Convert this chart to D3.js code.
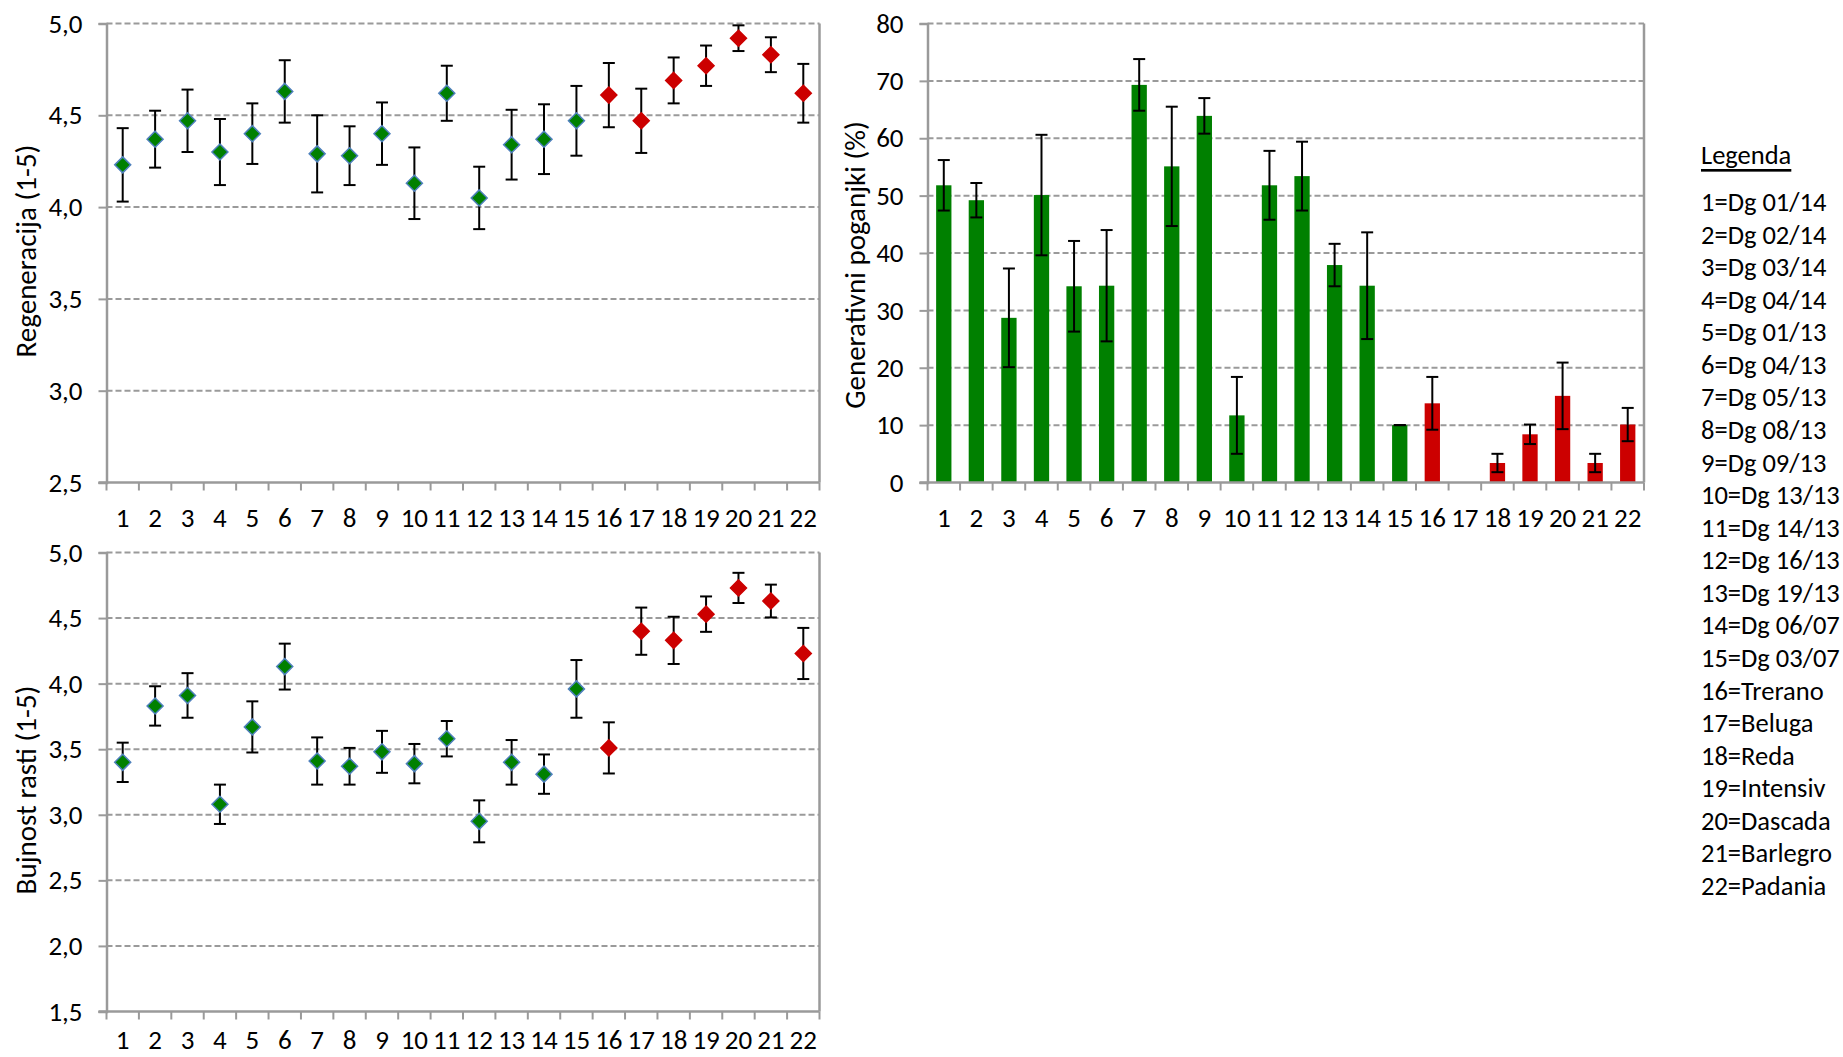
<!DOCTYPE html>
<html>
<head>
<meta charset="utf-8">
<script src="https://cdn.jsdelivr.net/npm/d3@7"></script>
<style>
  html, body { margin: 0; padding: 0; background: #fff; }
  svg { display: block; }
  text { font-family: Carlito, Calibri, Lato, sans-serif; fill: #000; }
</style>
</head>
<body>
<svg id="chart" width="1843" height="1057"></svg>
<script>
// Accessions 1-22: 1-15 are breeding lines, 16-22 are reference cultivars
const categories = d3.range(1, 23).map(String);
const groups = categories.map((c, i) => i < 15 ? "line" : "cultivar");

// Regeneration score (1-5), mean and error
const regen    = [4.23, 4.37, 4.47, 4.30, 4.40, 4.63, 4.29, 4.28, 4.40, 4.13, 4.62,
                  4.05, 4.34, 4.37, 4.47, 4.61, 4.47, 4.69, 4.77, 4.92, 4.83, 4.62];
const regenErr = [0.20, 0.155, 0.17, 0.18, 0.165, 0.17, 0.21, 0.16, 0.17, 0.195, 0.15,
                  0.17, 0.19, 0.19, 0.19, 0.175, 0.175, 0.125, 0.11, 0.07, 0.095, 0.16];

// Generative shoots (%), mean and error
const gen    = [51.8, 49.2, 28.7, 50.1, 34.2, 34.3, 69.3, 55.1, 63.9, 11.7, 51.8,
                53.4, 37.9, 34.3, 10.0, 13.8, 0, 3.4, 8.4, 15.1, 3.4, 10.1];
const genErr = [4.4, 3.0, 8.6, 10.5, 7.9, 9.7, 4.5, 10.4, 3.1, 6.7, 6.0,
                6.0, 3.7, 9.3, 0, 4.6, null, 1.6, 1.7, 5.8, 1.6, 2.9];

// Growth vigour score (1-5), mean and error
const vigor    = [3.40, 3.83, 3.91, 3.08, 3.67, 4.13, 3.41, 3.37, 3.48, 3.39, 3.58,
                  2.95, 3.40, 3.31, 3.96, 3.51, 4.40, 4.33, 4.53, 4.73, 4.63, 4.23];
const vigorErr = [0.15, 0.15, 0.17, 0.15, 0.195, 0.175, 0.18, 0.14, 0.16, 0.15, 0.135,
                  0.16, 0.17, 0.15, 0.22, 0.195, 0.18, 0.18, 0.135, 0.115, 0.125, 0.195];

const regenTicks = [2.5, 3.0, 3.5, 4.0, 4.5, 5.0];
const genTicks   = [0, 10, 20, 30, 40, 50, 60, 70, 80];
const vigorTicks = [1.5, 2.0, 2.5, 3.0, 3.5, 4.0, 4.5, 5.0];

const legendTitle = "Legenda";
const legendItems = ["Dg 01/14", "Dg 02/14", "Dg 03/14", "Dg 04/14", "Dg 01/13", "Dg 04/13",
  "Dg 05/13", "Dg 08/13", "Dg 09/13", "Dg 13/13", "Dg 14/13", "Dg 16/13", "Dg 19/13",
  "Dg 06/07", "Dg 03/07", "Trerano", "Beluga", "Reda", "Intensiv", "Dascada",
  "Barlegro", "Padania"];

const GREEN = "#008000", RED = "#cc0000", OUTLINE = "#4f81bd";
const GRID = "#9a9a9a", AXIS = "#9a9a9a";
const TICK_FONT = 27, TITLE_FONT = 29, LEGEND_FONT = 26.5;
const colorOf = g => g === "line" ? GREEN : RED;
const fmtComma = d => d3.format(".1f")(d).replace(".", ",");

const svg = d3.select("#chart");

function panel(opts) {
  const { x0, x1, y0, y1, domain, ticks, fmt, title, titleX, titleY, labelGap } = opts;
  const g = svg.append("g");
  const x = d3.scaleBand().domain(categories).range([x0, x1]).padding(0);
  const y = d3.scaleLinear().domain(domain).range([y1, y0]);

  // dashed horizontal gridlines
  g.append("g").selectAll("line").data(ticks.filter(t => t !== domain[0])).join("line")
    .attr("x1", x0).attr("x2", x1)
    .attr("y1", d => y(d)).attr("y2", d => y(d))
    .attr("stroke", GRID).attr("stroke-width", 2).attr("stroke-dasharray", "6,3");

  // layer for bars, error bars and markers
  const marks = g.append("g");

  // right border of the plot area
  g.append("line").attr("x1", x1).attr("x2", x1).attr("y1", y0).attr("y2", y1)
    .attr("stroke", AXIS).attr("stroke-width", 2.5);

  // y axis
  const yAxis = d3.axisLeft(y).tickValues(ticks).tickFormat(fmt).tickSize(8).tickPadding(16);
  const ya = g.append("g").attr("transform", `translate(${x0},0)`).call(yAxis);
  ya.select(".domain").attr("stroke", AXIS).attr("stroke-width", 2.5);
  ya.selectAll(".tick line").attr("stroke", AXIS).attr("stroke-width", 2);
  ya.selectAll(".tick text").attr("font-size", TICK_FONT).attr("font-family", null).attr("fill", "#000");

  // x axis: tick marks on band boundaries, labels at band centres
  const xa = g.append("g");
  xa.append("line").attr("x1", x0 - 8).attr("x2", x1).attr("y1", y1).attr("y2", y1)
    .attr("stroke", AXIS).attr("stroke-width", 2.5);
  const bounds = categories.map(c => x(c)).concat([x1]);
  xa.selectAll("line.tk").data(bounds).join("line").attr("class", "tk")
    .attr("x1", d => d).attr("x2", d => d).attr("y1", y1).attr("y2", y1 + 8)
    .attr("stroke", AXIS).attr("stroke-width", 2);
  xa.selectAll("text").data(categories).join("text")
    .attr("x", d => x(d) + x.bandwidth() / 2).attr("y", y1 + labelGap)
    .attr("text-anchor", "middle").attr("dominant-baseline", "central")
    .attr("font-size", TICK_FONT).text(d => d);

  // axis title
  g.append("text").attr("transform", `translate(${titleX},${titleY}) rotate(-90)`)
    .attr("text-anchor", "middle").attr("dominant-baseline", "central")
    .attr("font-size", TITLE_FONT).text(title);

  return { g: marks, x, y };
}

function errorBars(p, values, errs, capW) {
  const data = categories.map((c, i) => ({ c, v: values[i], e: errs[i] })).filter(d => d.e != null);
  const cx = d => p.x(d.c) + p.x.bandwidth() / 2;
  const eg = p.g.append("g").attr("stroke", "#000").attr("stroke-width", 2);
  eg.selectAll("line.v").data(data).join("line").attr("class", "v")
    .attr("x1", cx).attr("x2", cx)
    .attr("y1", d => p.y(d.v + d.e)).attr("y2", d => p.y(d.v - d.e));
  eg.selectAll("line.t").data(data).join("line").attr("class", "t")
    .attr("x1", d => cx(d) - capW / 2).attr("x2", d => cx(d) + capW / 2)
    .attr("y1", d => p.y(d.v + d.e)).attr("y2", d => p.y(d.v + d.e));
  eg.selectAll("line.b").data(data).join("line").attr("class", "b")
    .attr("x1", d => cx(d) - capW / 2).attr("x2", d => cx(d) + capW / 2)
    .attr("y1", d => p.y(d.v - d.e)).attr("y2", d => p.y(d.v - d.e));
}

function diamonds(p, values) {
  const r = 8;
  const diamond = `M0,${-r}L${r},0L0,${r}L${-r},0Z`;
  p.g.append("g").selectAll("path").data(categories).join("path")
    .attr("d", diamond)
    .attr("transform", (c, i) => `translate(${p.x(c) + p.x.bandwidth() / 2},${p.y(values[i])})`)
    .attr("fill", (c, i) => colorOf(groups[i]))
    .attr("stroke", (c, i) => groups[i] === "line" ? OUTLINE : RED)
    .attr("stroke-width", 1.5);
}

// Regeneracija
const p1 = panel({ x0: 106.5, x1: 819.5, y0: 23.5, y1: 482.5, domain: [2.5, 5],
  ticks: regenTicks, fmt: fmtComma, title: "Regeneracija (1-5)", titleX: 26, titleY: 251, labelGap: 35 });
errorBars(p1, regen, regenErr, 12);
diamonds(p1, regen);

// Generativni poganjki
const p2 = panel({ x0: 927.5, x1: 1644, y0: 23.5, y1: 482.5, domain: [0, 80],
  ticks: genTicks, fmt: d3.format("d"), title: "Generativni poganjki (%)", titleX: 855, titleY: 265, labelGap: 35 });
const bw = p2.x.bandwidth() * 0.47;
p2.g.append("g").selectAll("rect").data(categories).join("rect")
  .attr("x", c => p2.x(c) + (p2.x.bandwidth() - bw) / 2)
  .attr("width", bw)
  .attr("y", (c, i) => p2.y(gen[i]))
  .attr("height", (c, i) => p2.y(0) - p2.y(gen[i]))
  .attr("fill", (c, i) => colorOf(groups[i]));
errorBars(p2, gen, genErr, 12);

// Bujnost rasti
const p3 = panel({ x0: 106.5, x1: 819.5, y0: 552.5, y1: 1011.5, domain: [1.5, 5],
  ticks: vigorTicks, fmt: fmtComma, title: "Bujnost rasti (1-5)", titleX: 26, titleY: 790, labelGap: 28 });
errorBars(p3, vigor, vigorErr, 12);
diamonds(p3, vigor);

// Legend
const lg = svg.append("g");
lg.append("text").attr("x", 1701).attr("y", 155).attr("dominant-baseline", "central")
  .attr("font-size", LEGEND_FONT).attr("text-decoration", "underline").text(legendTitle);
lg.selectAll("text.item").data(legendItems).join("text").attr("class", "item")
  .attr("x", 1701).attr("y", (d, i) => 202 + i * 32.57)
  .attr("dominant-baseline", "central").attr("font-size", LEGEND_FONT)
  .text((d, i) => `${categories[i]}=${d}`);
</script>
</body>
</html>
